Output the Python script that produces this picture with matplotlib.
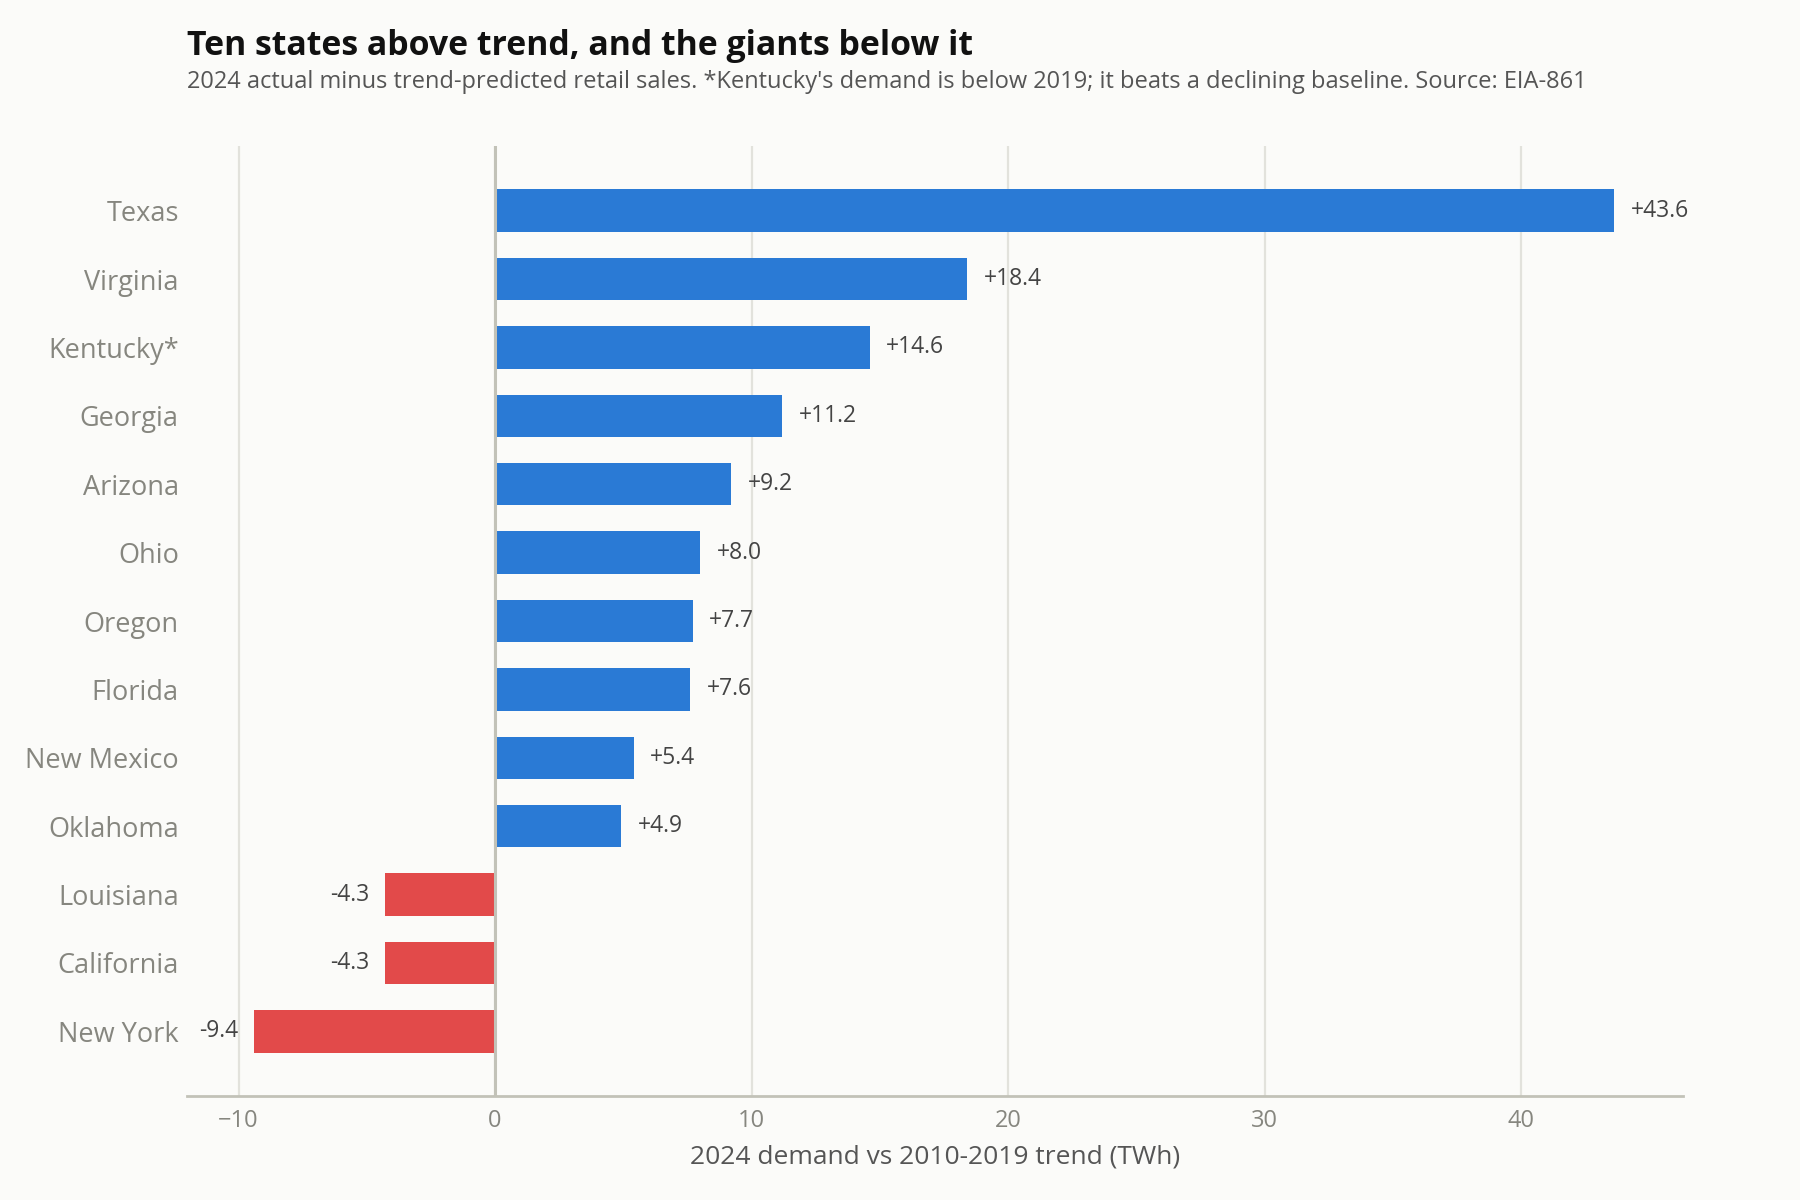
import numpy as np
import matplotlib
matplotlib.use('agg')
import matplotlib.pyplot as plt

## Chart data
states = ['Texas', 'Virginia', 'Kentucky*', 'Georgia', 'Arizona', 'Ohio', 'Oregon',
          'Florida', 'New Mexico', 'Oklahoma', 'Louisiana', 'California', 'New York']
gap_twh = [43.6, 18.4, 14.6, 11.2, 9.2, 8.0, 7.7, 7.6, 5.4, 4.9, -4.3, -4.3, -9.4]
x_ticks = [-10, 0, 10, 20, 30, 40]

title = 'Ten states above trend, and the giants below it'
subtitle = ("2024 actual minus trend-predicted retail sales. *Kentucky's demand is below 2019; "
            "it beats a declining baseline. Source: EIA-861")
x_label = '2024 demand vs 2010-2019 trend (TWh)'

blue = '#2a7ad5'
red = '#e24a4a'
bg = '#fbfbf9'

plt.rcParams['font.family'] = ['Open Sans', 'DejaVu Sans']

fig = plt.figure(figsize=(18, 12), dpi=100, facecolor=bg)
ax = fig.add_axes([0.104, 0.087, 0.831, 0.791], facecolor=bg)

ypos = np.arange(len(states))
colors = [blue if v > 0 else red for v in gap_twh]
ax.barh(ypos, gap_twh, height=0.62, color=colors, zorder=2)

## value labels
for y, v in zip(ypos, gap_twh):
    if v > 0:
        ax.annotate('+{0:.1f}'.format(v), (v, y), xytext=(12, 0), textcoords='offset points',
                    ha='left', va='center', fontsize=16.5, color='#444444')
    else:
        ax.annotate('{0:.1f}'.format(v), (v, y), xytext=(-11, 0), textcoords='offset points',
                    ha='right', va='center', fontsize=16.5, color='#444444')

ax.axvline(0, color='#c2c2b8', lw=2.2, zorder=3)

ax.set_yticks(ypos)
ax.set_yticklabels(states, fontsize=19.5, color='#86867f')
ax.set_xticks(x_ticks)
ax.set_xticklabels(['\u221210', '0', '10', '20', '30', '40'], fontsize=17, color='#86867f')
ax.tick_params(axis='both', length=0)
ax.tick_params(axis='y', pad=6)
ax.tick_params(axis='x', pad=10)
ax.set_xlim(-12.0, 46.3)
ax.set_ylim(len(states) - 1 + 0.94, -0.94)

ax.grid(axis='x', color='#e2e2dc', lw=1.6, zorder=1)
ax.set_axisbelow(True)
for s in ['top', 'right', 'left']:
    ax.spines[s].set_visible(False)
ax.spines['bottom'].set_color('#c2c2b8')
ax.spines['bottom'].set_linewidth(2)

ax.set_xlabel(x_label, fontsize=19, color='#555555', labelpad=8)

fig.text(0.104, 0.962, title, fontsize=24.4, fontweight='bold', color='#111111', va='center', ha='left')
fig.text(0.104, 0.932, subtitle, fontsize=17, color='#555555', va='center', ha='left')

fig.savefig('out.png', dpi=100, facecolor=bg)
